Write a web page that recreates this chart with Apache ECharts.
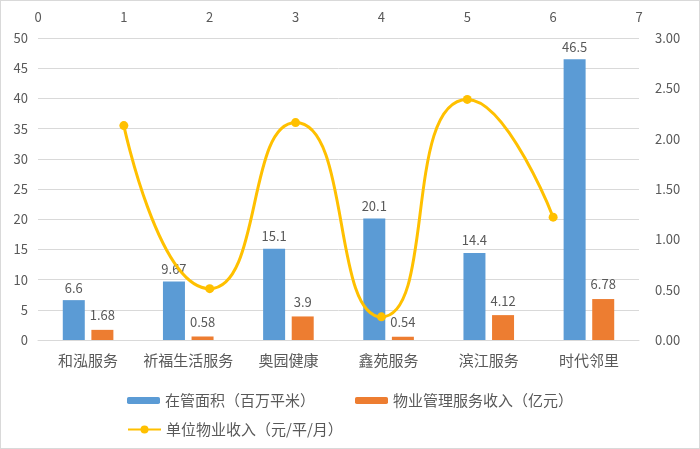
<!DOCTYPE html>
<html>
<head>
<meta charset="utf-8">
<script src="https://cdn.jsdelivr.net/npm/echarts@6/dist/echarts.min.js"></script>
<style>
  html, body { margin: 0; padding: 0; background: #fff; }
  #chart { width: 698px; height: 447px; border: 1px solid #d9d9d9; }
</style>
</head>
<body>
<div id="chart"></div>
<script>
var categories = ['和泓服务', '祈福生活服务', '奥园健康', '鑫苑服务', '滨江服务', '时代邻里'];
var areaData = [6.6, 9.67, 15.1, 20.1, 14.4, 46.5];
var revenueData = [1.68, 0.58, 3.9, 0.54, 4.12, 6.78];
var unitPos = [1, 2, 3, 4, 5, 6];
var unitData = [2.13, 0.51, 2.16, 0.23, 2.39, 1.22];

var textColor = '#595959';
var fontFamily = '"Microsoft YaHei", "Noto Sans CJK SC", sans-serif';

var myChart = echarts.init(document.getElementById('chart'));

var options = {
  animation: false,
  textStyle: { fontFamily: fontFamily },
  grid: { left: 37, right: 60, top: 37, bottom: 108 },
  legend: [
    {
      data: ['在管面积（百万平米）', '物业管理服务收入（亿元）'],
      left: 121, top: 387,
      itemWidth: 33, itemHeight: 7, itemGap: 40,
      textStyle: { color: textColor, fontSize: 15 }
    },
    {
      data: ['单位物业收入（元/平/月）'],
      left: 121, top: 416,
      itemWidth: 33, itemHeight: 10,
      textStyle: { color: textColor, fontSize: 15 }
    }
  ],
  xAxis: [
    {
      type: 'category',
      data: categories,
      axisLine: { lineStyle: { color: '#d9d9d9' } },
      axisTick: { show: false },
      axisLabel: { color: textColor, fontSize: 15, margin: 13, interval: 0 }
    },
    {
      type: 'value',
      position: 'top',
      min: 0, max: 7, interval: 1,
      axisLine: { show: false },
      axisTick: { show: false },
      splitLine: { show: false },
      axisLabel: { color: textColor, fontSize: 13, margin: 14 }
    }
  ],
  yAxis: [
    {
      type: 'value',
      min: 0, max: 50, interval: 5,
      axisLine: { show: false },
      axisTick: { show: false },
      splitLine: { lineStyle: { color: '#d9d9d9' } },
      axisLabel: { color: textColor, fontSize: 13, margin: 10 }
    },
    {
      type: 'value',
      min: 0, max: 3, interval: 0.5,
      axisLine: { show: false },
      axisTick: { show: false },
      splitLine: { show: false },
      axisLabel: {
        color: textColor, fontSize: 13, margin: 16,
        formatter: function (v) { return v.toFixed(2); }
      }
    }
  ],
  series: [
    {
      name: '在管面积（百万平米）',
      type: 'bar',
      data: areaData,
      barWidth: 22,
      barGap: '30%',
      itemStyle: { color: '#5B9BD5' },
      label: { show: true, position: 'top', color: textColor, fontSize: 13, distance: 6 }
    },
    {
      name: '物业管理服务收入（亿元）',
      type: 'bar',
      data: revenueData,
      barWidth: 22,
      barGap: '30%',
      itemStyle: { color: '#ED7D31' },
      label: { show: true, position: 'top', color: textColor, fontSize: 13, distance: 8 }
    },
    {
      name: '单位物业收入（元/平/月）',
      type: 'line',
      xAxisIndex: 1,
      yAxisIndex: 1,
      data: unitPos.map(function (x, i) { return [x, unitData[i]]; }),
      smooth: 0.6,
      symbol: 'circle',
      symbolSize: 9,
      lineStyle: { color: '#FFC000', width: 3 },
      itemStyle: { color: '#FFC000' }
    }
  ]
};

myChart.setOption(options, true);
</script>
</body>
</html>
